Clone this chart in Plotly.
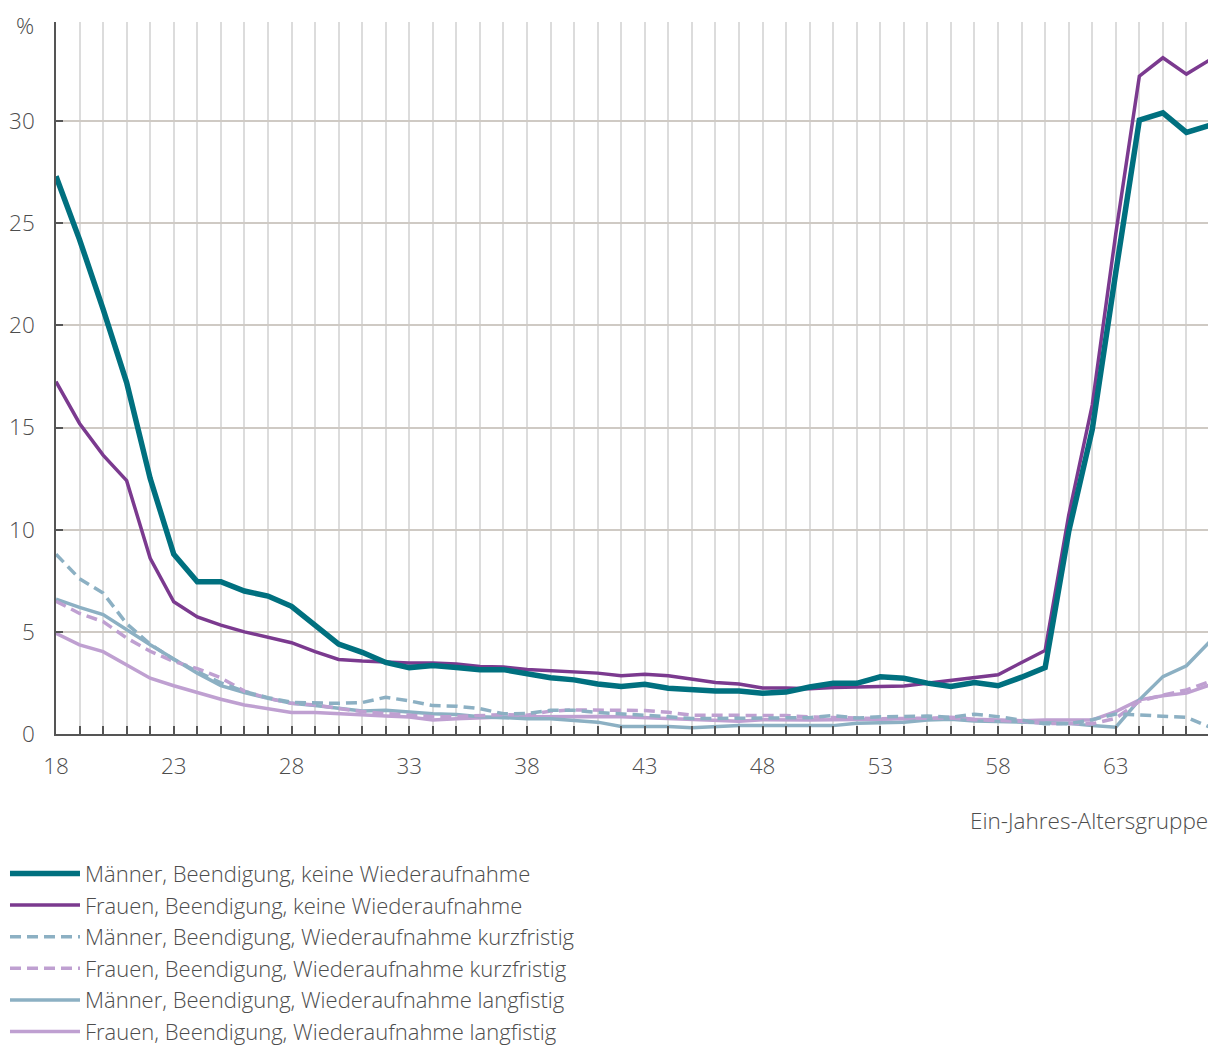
import plotly.graph_objects as go

ages = list(range(18, 68))

men_keine = [27.3, 24.2, 20.8, 17.2, 12.5, 8.8, 7.45, 7.45, 7.0, 6.75,
             6.25, 5.35, 4.4, 4.0, 3.5, 3.25, 3.35, 3.25, 3.15, 3.15,
             2.95, 2.75, 2.65, 2.45, 2.32, 2.43, 2.24, 2.15, 2.1, 2.1,
             1.99, 2.05, 2.3, 2.48, 2.48, 2.8, 2.73, 2.49, 2.33, 2.52,
             2.36, 2.78, 3.25, 9.9, 14.9, 22.6, 30.05, 30.4, 29.45, 29.8]

women_keine = [17.25, 15.2, 13.65, 12.4, 8.6, 6.47, 5.73, 5.33, 5.0, 4.73,
               4.47, 4.03, 3.65, 3.57, 3.52, 3.48, 3.48, 3.43, 3.31, 3.28,
               3.16, 3.1, 3.05, 2.98, 2.85, 2.92, 2.85, 2.7, 2.52, 2.45,
               2.25, 2.25, 2.22, 2.27, 2.28, 2.33, 2.35, 2.49, 2.62, 2.73,
               2.9, 3.5, 4.09, 10.7, 16.1, 24.5, 32.2, 33.1, 32.3, 33.0]

men_kurz = [8.8, 7.6, 6.9, 5.4, 4.4, 3.65, 3.05, 2.5, 2.08, 1.78,
            1.55, 1.52, 1.5, 1.54, 1.8, 1.62, 1.39, 1.36, 1.24, 0.99,
            1.0, 1.16, 1.16, 1.05, 1.0, 0.92, 0.84, 0.76, 0.76, 0.76,
            0.8, 0.76, 0.8, 0.9, 0.78, 0.84, 0.88, 0.88, 0.82, 0.97,
            0.85, 0.69, 0.5, 0.5, 0.7, 0.98, 0.92, 0.88, 0.82, 0.33]

women_kurz = [6.5, 5.9, 5.5, 4.7, 4.05, 3.55, 3.2, 2.75, 2.1, 1.75,
              1.5, 1.42, 1.25, 1.1, 1.0, 0.92, 0.85, 0.85, 0.88, 0.95,
              0.92, 1.12, 1.18, 1.18, 1.17, 1.15, 1.06, 0.92, 0.92, 0.92,
              0.92, 0.9, 0.84, 0.83, 0.78, 0.75, 0.75, 0.75, 0.78, 0.7,
              0.66, 0.62, 0.52, 0.5, 0.5, 0.77, 1.6, 1.9, 2.16, 2.57]

men_lang = [6.6, 6.2, 5.85, 5.1, 4.37, 3.67, 2.98, 2.37, 2.03, 1.75,
            1.5, 1.4, 1.28, 1.13, 1.16, 1.08, 0.99, 0.96, 0.84, 0.8,
            0.75, 0.75, 0.66, 0.58, 0.37, 0.37, 0.37, 0.3, 0.37, 0.41,
            0.41, 0.41, 0.41, 0.41, 0.53, 0.57, 0.57, 0.69, 0.72, 0.64,
            0.6, 0.6, 0.56, 0.52, 0.41, 0.33, 1.67, 2.81, 3.34, 4.53]

women_lang = [4.93, 4.36, 4.03, 3.39, 2.73, 2.36, 2.03, 1.7, 1.42, 1.23,
              1.05, 1.05, 0.98, 0.94, 0.88, 0.83, 0.68, 0.75, 0.8, 0.83,
              0.84, 0.86, 0.84, 0.86, 0.84, 0.8, 0.75, 0.7, 0.66, 0.63,
              0.7, 0.68, 0.68, 0.7, 0.7, 0.72, 0.75, 0.75, 0.82, 0.72,
              0.69, 0.65, 0.69, 0.69, 0.69, 1.1, 1.67, 1.87, 2.0, 2.4]

names = ["Männer, Beendigung, keine Wiederaufnahme",
         "Frauen, Beendigung, keine Wiederaufnahme",
         "Männer, Beendigung, Wiederaufnahme kurzfristig",
         "Frauen, Beendigung, Wiederaufnahme kurzfristig",
         "Männer, Beendigung, Wiederaufnahme langfistig",
         "Frauen, Beendigung, Wiederaufnahme langfistig"]

TEAL = "#00707f"
PURPLE = "#7b3a8f"
LBLUE = "#8cb0c3"
LPURPLE = "#bfa0d1"
TXT = "#4d4d4d"
FONT = "Open Sans"
FS = 22.5
W = 300

series = [
    (women_lang, 5, LPURPLE, 3.5, "solid"),
    (men_lang, 4, LBLUE, 3.5, "solid"),
    (women_kurz, 3, LPURPLE, 3.5, "11px,6px"),
    (men_kurz, 2, LBLUE, 3.5, "11px,6px"),
    (women_keine, 1, PURPLE, 3.5, "solid"),
    (men_keine, 0, TEAL, 5.5, "solid"),
]

fig = go.Figure()
for vals, idx, col, w, dash in series:
    fig.add_trace(go.Scatter(
        x=ages, y=vals, mode="lines", name=names[idx],
        line=dict(color=col, width=w, dash=dash),
        legendrank=idx + 1, legendgroup=str(idx),
    ))

fnt = dict(family=FONT, size=FS, color=TXT, weight=W)
leg_fnt = dict(family=FONT, size=22, color=TXT, weight=W)

fig.update_layout(
    width=1208, height=1043,
    margin=dict(l=48, r=6, t=14, b=317, autoexpand=False),
    paper_bgcolor="white", plot_bgcolor="white",
    font=fnt,
    showlegend=True,
    legend=dict(
        x=-0.0442, y=-0.1667, xanchor="left", yanchor="top",
        orientation="v", traceorder="grouped", tracegroupgap=0,
        font=leg_fnt, itemwidth=70, bgcolor="rgba(0,0,0,0)",
    ),
    xaxis=dict(
        range=[18, 67], tick0=18, dtick=5,
        showgrid=True, gridcolor="#dcdcdc", gridwidth=1.5,
        showline=True, linecolor="#555555", linewidth=1.5,
        ticks="inside", ticklen=8, tickcolor="#555555", tickwidth=1.5,
        ticklabelstandoff=11,
        minor=dict(dtick=1, tick0=18, showgrid=True, gridcolor="#dcdcdc", gridwidth=1.5,
                   ticks="inside", ticklen=8, tickcolor="#555555", tickwidth=1.5),
        zeroline=False, fixedrange=True,
    ),
    yaxis=dict(
        range=[0, 34.85], tick0=0, dtick=5,
        showgrid=True, gridcolor="#cfcac4", gridwidth=1.5,
        showline=True, linecolor="#555555", linewidth=1.5,
        ticks="inside", ticklen=7, tickcolor="#555555", tickwidth=1.5,
        ticklabelstandoff=15,
        zeroline=False, fixedrange=True,
    ),
    annotations=[
        dict(text="%", xref="paper", yref="paper", x=-0.027, y=1.0197,
             xanchor="center", yanchor="top", showarrow=False, font=fnt),
        dict(text="Ein-Jahres-Altersgruppe", xref="paper", yref="paper", x=1.0, y=-0.121,
             xanchor="right", yanchor="middle", showarrow=False, font=fnt),
    ],
)

fig.write_html("out.html")
